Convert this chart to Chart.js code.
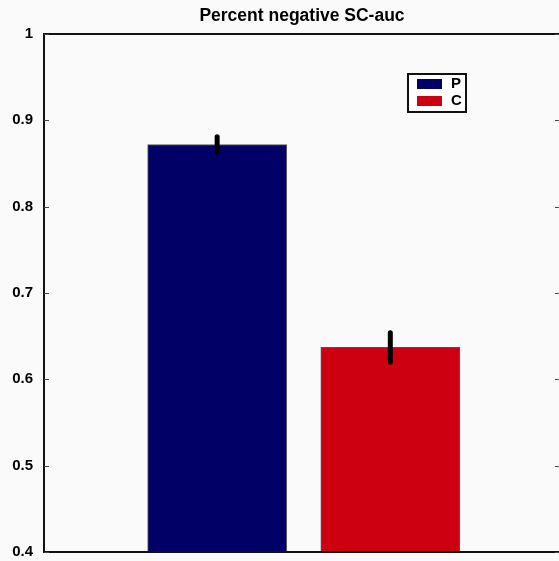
<!DOCTYPE html>
<html>
<head>
<meta charset="utf-8">
<script src="https://cdn.jsdelivr.net/npm/chart.js@4"></script>
<style>
  html, body { margin: 0; padding: 0; background: #fafafa; overflow: hidden; }
  canvas { display: block; }
</style>
</head>
<body>
<canvas id="c" width="604" height="561"></canvas>
<script>
// Percent negative SC-auc

const categories = ['P', 'C'];
const values = [0.872, 0.637];
const errors = [0.009, 0.017];
const colors = ['#000066', '#cc0010'];
const yTicks = [0.4, 0.5, 0.6, 0.7, 0.8, 0.9, 1];

// frame, inward ticks, error bars, legend box
const extras = {
    id: 'extras',
    afterDatasetsDraw(chart) {
        const { ctx, chartArea: a, scales: { x, y } } = chart;
        ctx.save();
        // error bars
        ctx.strokeStyle = '#000';
        ctx.lineWidth = 5;
        ctx.lineCap = 'round';
        values.forEach((v, i) => {
            const px = x.getPixelForValue(i + 1);
            ctx.beginPath();
            ctx.moveTo(px, y.getPixelForValue(v - errors[i]));
            ctx.lineTo(px, y.getPixelForValue(v + errors[i]));
            ctx.stroke();
        });
        ctx.lineCap = 'butt';
        // frame
        ctx.lineWidth = 2;
        ctx.strokeStyle = '#111';
        ctx.strokeRect(a.left, a.top, a.right - a.left, a.bottom - a.top);
        // inward ticks
        ctx.lineWidth = 1;
        ctx.strokeStyle = '#444';
        yTicks.forEach(t => {
            const py = Math.round(y.getPixelForValue(t)) + 0.5;
            ctx.beginPath();
            ctx.moveTo(a.left, py); ctx.lineTo(a.left + 5, py);
            ctx.moveTo(a.right, py); ctx.lineTo(a.right - 5, py);
            ctx.stroke();
        });
        // legend
        const lx = a.left + 364, ly = a.top + 40;
        ctx.fillStyle = '#fff';
        ctx.fillRect(lx, ly, 58, 38);
        ctx.lineWidth = 2;
        ctx.strokeStyle = '#111';
        ctx.strokeRect(lx, ly, 58, 38);
        ctx.font = 'bold 15px Arial, "Liberation Sans", sans-serif';
        ctx.textBaseline = 'middle';
        categories.forEach((c, i) => {
            const ry = ly + 5 + i * 17;
            ctx.fillStyle = colors[i];
            ctx.fillRect(lx + 9, ry, 25, 10);
            ctx.fillStyle = '#000';
            ctx.fillText(c, lx + 43, ry + 5);
        });
        ctx.restore();
    }
};

const tickFont = { family: 'Arial, "Liberation Sans", sans-serif', size: 15, weight: 'bold' };
const fitAxis = s => { s.width = 44; s.paddingTop = 9; s.paddingBottom = 9; };

new Chart(document.getElementById('c'), {
    type: 'bar',
    data: {
        datasets: categories.map((c, i) => ({
            label: c,
            data: [{ x: i + 1, y: values[i] }],
            backgroundColor: colors[i],
            borderColor: '#555',
            borderWidth: 1,
            barThickness: 139,
            grouped: false
        }))
    },
    options: {
        responsive: false,
        animation: false,
        layout: { padding: 0 },
        plugins: {
            legend: { display: false },
            tooltip: { enabled: false },
            title: {
                display: true,
                text: 'Percent negative SC-auc',
                color: '#000',
                font: { family: 'Arial, "Liberation Sans", sans-serif', size: 17.5, weight: 'bold', lineHeight: 1.2 },
                padding: { top: 6, bottom: 7 }
            }
        },
        scales: {
            x: { type: 'linear', min: 0, max: 2.98, offset: false, display: false },
            y: {
                min: 0.4, max: 1,
                afterBuildTicks: s => { s.ticks = yTicks.map(v => ({ value: v })); },
                afterFit: fitAxis,
                grid: { display: false, drawTicks: false },
                border: { display: false },
                ticks: { padding: 11, color: '#000', font: tickFont, callback: v => String(+v.toFixed(1)) }
            },
            y2: {
                position: 'right',
                min: 0.4, max: 1,
                afterBuildTicks: s => { s.ticks = yTicks.map(v => ({ value: v })); },
                afterFit: fitAxis,
                grid: { display: false, drawTicks: false },
                border: { display: false },
                ticks: { display: false }
            }
        }
    },
    plugins: [extras]
});
</script>
</body>
</html>
